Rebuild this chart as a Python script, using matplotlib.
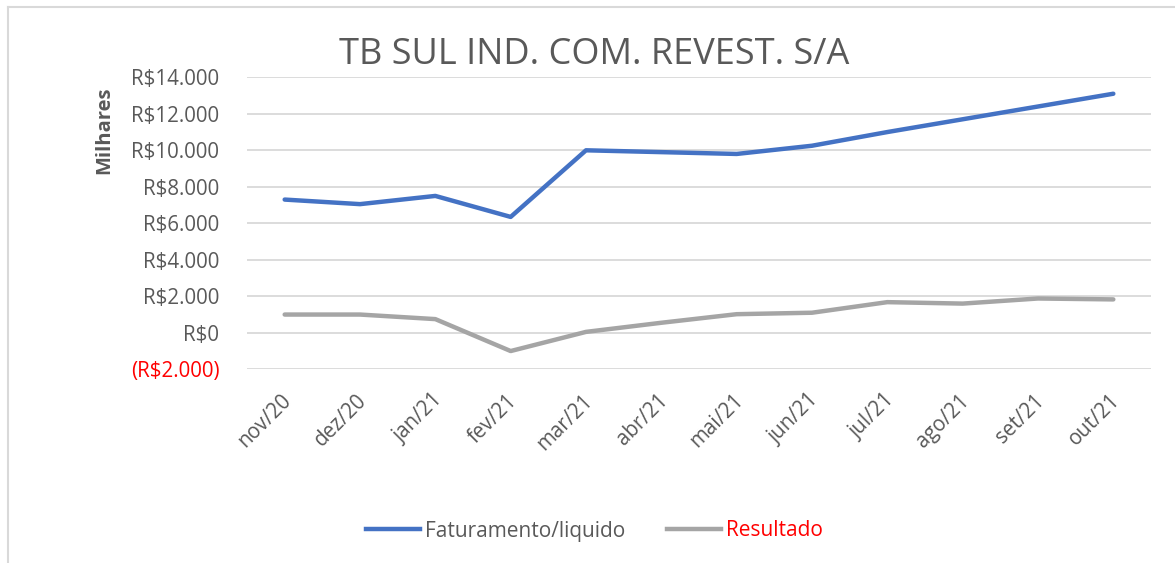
import matplotlib
matplotlib.use('Agg')
import matplotlib.pyplot as plt
import matplotlib.transforms as mtransforms
from matplotlib.ticker import FuncFormatter
from matplotlib.lines import Line2D

plt.rcParams['font.family'] = ['Open Sans', 'DejaVu Sans']

meses = ['nov/20', 'dez/20', 'jan/21', 'fev/21', 'mar/21', 'abr/21',
         'mai/21', 'jun/21', 'jul/21', 'ago/21', 'set/21', 'out/21']
faturamento = [7300, 7050, 7500, 6350, 10000, 9900, 9800, 10250, 11000, 11700, 12400, 13100]
resultado = [1000, 1000, 750, -1000, 50, 550, 1020, 1100, 1680, 1600, 1880, 1830]
y_ticks = [-2000, 0, 2000, 4000, 6000, 8000, 10000, 12000, 14000]

azul = '#4472C4'
cinza = '#A5A5A5'
texto = '#595959'

fig = plt.figure(figsize=(11.75, 5.63), dpi=100)
ax = fig.add_axes([247/1175, 1 - 369.3/563, (1151 - 247)/1175, (369.3 - 77.3)/563])

x = list(range(len(meses)))
ax.plot(x, faturamento, color=azul, lw=3.2, solid_capstyle='round', solid_joinstyle='round', zorder=3)
ax.plot(x, resultado, color=cinza, lw=3.2, solid_capstyle='round', solid_joinstyle='round', zorder=3)

ax.set_xlim(-0.5, len(meses) - 0.5)
ax.set_ylim(-2000, 14000)
ax.set_yticks(y_ticks)


def fmt_real(v, pos):
    s = f"{abs(int(v)):,}".replace(',', '.')
    if v < 0:
        return f"(R${s})"
    return f"R${s}"


ax.yaxis.set_major_formatter(FuncFormatter(fmt_real))
ax.grid(axis='y', color='#D9D9D9', lw=1.3)
ax.set_axisbelow(True)
for sp in ax.spines.values():
    sp.set_visible(False)
ax.tick_params(axis='both', length=0, labelsize=14.8, colors=texto)
ax.tick_params(axis='y', pad=20)
for lab, v in zip(ax.get_yticklabels(), y_ticks):
    if v < 0:
        lab.set_color('#FF0000')

ax.set_xticks(x)
ax.set_xticklabels(meses, rotation=45, ha='right', va='top', rotation_mode='anchor')
ax.tick_params(axis='x', pad=15)
desloc = mtransforms.ScaledTranslation(-4/100, 0, fig.dpi_scale_trans)
for lab in ax.get_xticklabels():
    lab.set_transform(lab.get_transform() + desloc)

fig.text(104.5/1175, 1 - 130/563, 'Milhares', fontsize=14.5, fontweight='bold',
         color=texto, rotation=90, ha='center', va='center')

fig.text(0.506, 1 - 55/563, 'TB SUL IND. COM. REVEST. S/A', fontsize=26,
         color=texto, ha='center', va='center')

handles = [Line2D([], [], color=azul, lw=3.2), Line2D([], [], color=cinza, lw=3.2)]
leg = fig.legend(handles, ['Faturamento/liquido', 'Resultado'], loc='center',
                 bbox_to_anchor=(0.506, 1 - 531/563), ncol=2, frameon=False,
                 fontsize=15, handlelength=2.6, handletextpad=0.25, columnspacing=2.0)
leg.get_texts()[0].set_color(texto)
leg.get_texts()[1].set_color('#FF0000')

# moldura do grafico (so aparece em cima e a esquerda)
fig.add_artist(Line2D([7.5/1175, 7.5/1175], [0, 1 - 7/563], color='#D9D9D9', lw=1.5))
fig.add_artist(Line2D([7.5/1175, 1], [1 - 7/563, 1 - 7/563], color='#D9D9D9', lw=1.5))

fig.savefig('out.png', dpi=100)
